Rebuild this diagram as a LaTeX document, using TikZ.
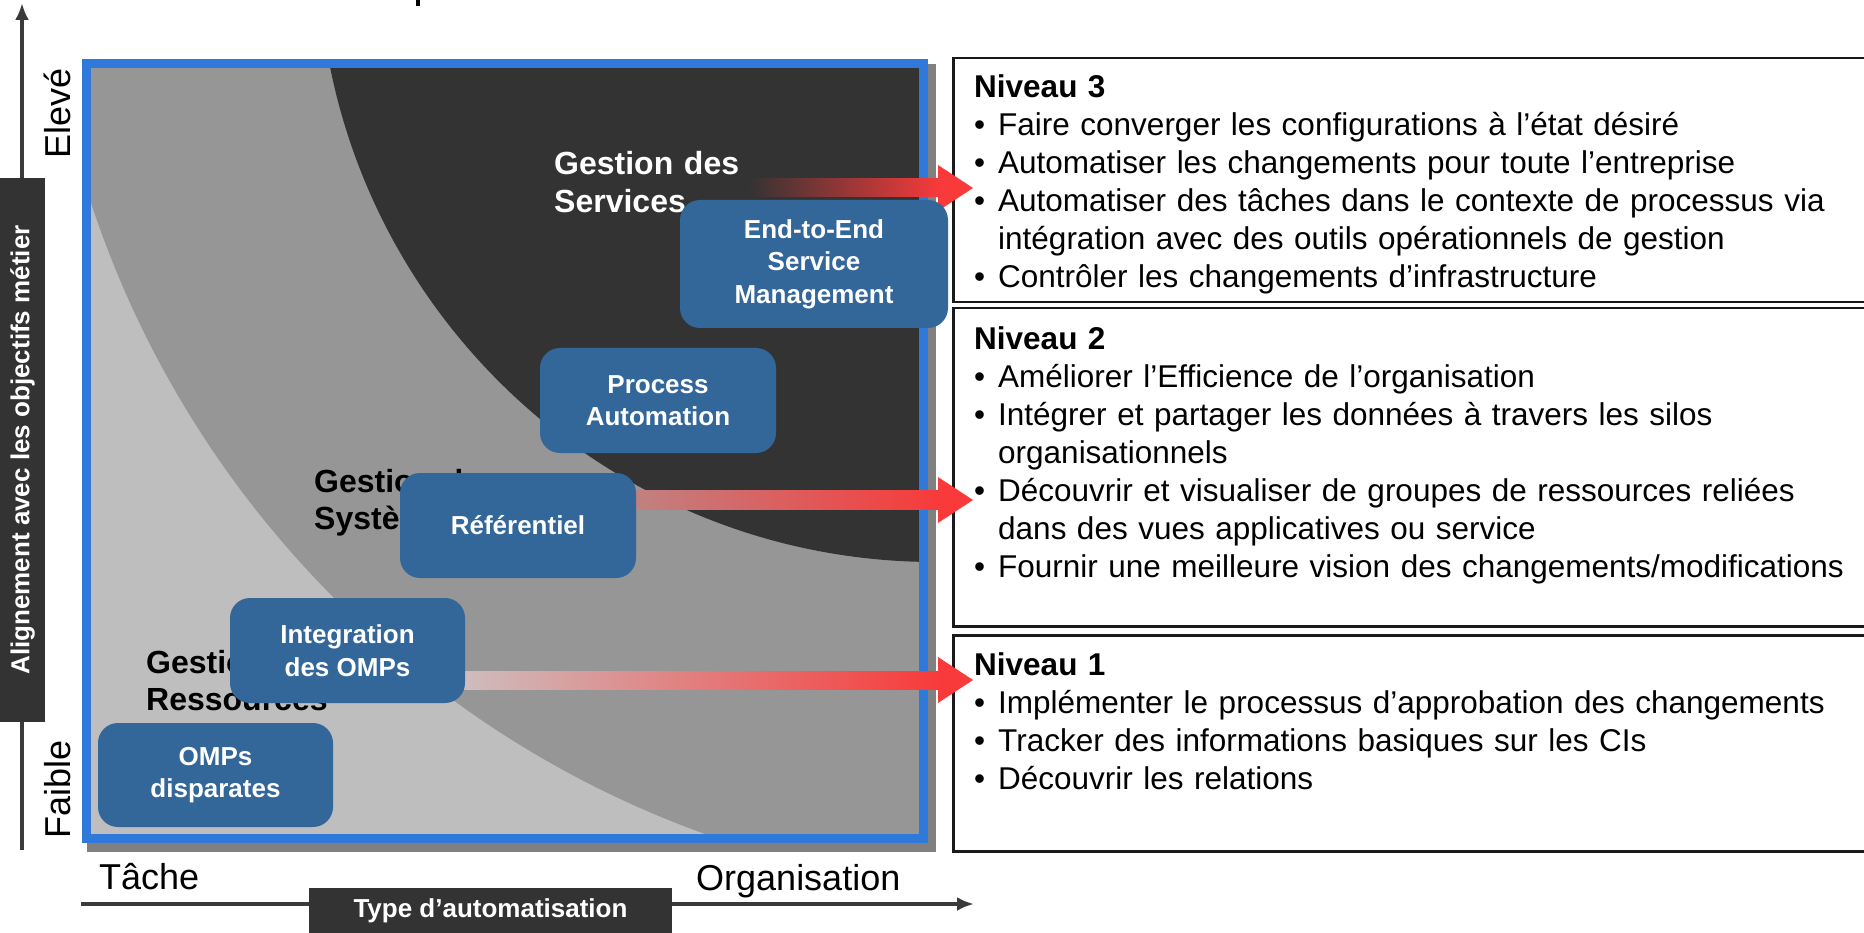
\documentclass[tikz,border=0pt]{standalone}
\usepackage{fontspec}
\setmainfont{Liberation Sans}
\usetikzlibrary{arrows.meta}
\definecolor{boxblue}{HTML}{336699}
\definecolor{frameblue}{HTML}{2E79DA}
\definecolor{darkgr}{HTML}{333333}
\definecolor{midgr}{HTML}{969696}
\definecolor{lightgr}{HTML}{BEBEBE}
\definecolor{shadowgr}{HTML}{808080}
\definecolor{axisgr}{HTML}{3A3A3A}
\definecolor{arrowred}{HTML}{F83A3A}
\newcommand{\myfs}[2]{\fontsize{#1}{#2}\selectfont}
\newcommand{\bul}{\makebox[24pt][l]{•}}
\begin{document}
\begin{tikzpicture}[x=1pt,y=-1pt,
  bluebox/.style={fill=boxblue, rounded corners=20pt, text=white, font=\bfseries\myfs{26}{32.5}, align=center, inner sep=0pt},
  zonelabel/.style={anchor=base west, inner sep=0pt, align=left, text width=330pt, font=\bfseries\myfs{32}{37.5}},
  axislabel/.style={inner sep=0pt, font=\myfs{36}{40}},
  darktag/.style={fill=darkgr, text=white, font=\bfseries\myfs{26}{30}, inner sep=0pt},
  levelbox/.style={draw=black!90, line width=2.5pt, inner sep=0pt, anchor=north west, minimum width=960pt},
  leveltext/.style={anchor=base west, inner sep=0pt, align=left, text width=1000pt, font=\myfs{31.5}{38}},
  axisline/.style={line width=4pt, draw=axisgr, -{Latex[length=17pt,width=14pt]}},
  redhead/.style={fill=arrowred},
]
\useasboundingbox (0,0) rectangle (1864,933);

% cut-off title fragment
\fill (416,0) rectangle (420,6);

% shadow and zones
\fill[shadowgr] (87,64) rectangle (936,852);
\begin{scope}
  \clip (86,64) rectangle (924,838);
  \fill[lightgr] (86,64) rectangle (924,838);
  \fill[midgr] (1045,-111) circle[radius=1004pt];
  \fill[darkgr] (935,-55) circle[radius=617pt];
\end{scope}
\draw[frameblue, line width=9pt] (86.5,63.5) rectangle (923.5,838.5);

% level boxes
\node[levelbox, minimum height=244pt] (lvl3) at (952,57) {};
\node[levelbox, minimum height=318pt] (lvl2) at (952,307) {};
\node[levelbox, minimum height=216pt] (lvl1) at (952,634) {};

\node[leveltext] (t3) at (974,98) {\textbf{Niveau 3}\\
\bul Faire converger les configurations à l’état désiré\\
\bul Automatiser les changements pour toute l’entreprise\\
\bul Automatiser des tâches dans le contexte de processus via\\
\hspace*{24pt}intégration avec des outils opérationnels de gestion\\
\bul Contrôler les changements d’infrastructure};

\node[leveltext] (t2) at (974,350) {\textbf{Niveau 2}\\
\bul Améliorer l’Efficience de l’organisation\\
\bul Intégrer et partager les données à travers les silos\\
\hspace*{24pt}organisationnels\\
\bul Découvrir et visualiser de groupes de ressources reliées\\
\hspace*{24pt}dans des vues applicatives ou service\\
\bul Fournir une meilleure vision des changements/modifications};

\node[leveltext] (t1) at (974,675) {\textbf{Niveau 1}\\
\bul Implémenter le processus d’approbation des changements\\
\bul Tracker des informations basiques sur les CIs\\
\bul Découvrir les relations};

% zone labels
\node[zonelabel, text=white] (zserv) at (554,175) {Gestion des\\Services};
\node[zonelabel] (zsys) at (314,492) {Gestion des\\Systèmes};
\node[zonelabel] (zres) at (146,673) {Gestion des\\Ressources};

% red arrows
\shade[left color=darkgr, right color=arrowred] (748,179) rectangle (940,197);
\fill[redhead] (938,165) -- (973,188) -- (938,211) -- cycle;
\shade[left color={rgb,255:red,192;green,130;blue,130}, right color=arrowred] (630,490) rectangle (940,509);
\fill[redhead] (938,477) -- (973,500) -- (938,523) -- cycle;
\shade[left color={rgb,255:red,206;green,190;blue,190}, right color=arrowred] (460,671) rectangle (940,689);
\fill[redhead] (938,657) -- (973,680) -- (938,703) -- cycle;

% blue boxes
\node[bluebox, minimum width=268pt, minimum height=128pt] (e2e) at (814,264) {End-to-End\\Service\\Management};
\node[bluebox, minimum width=236pt, minimum height=105pt] (pa) at (658,400.5) {Process\\Automation};
\node[bluebox, minimum width=236pt, minimum height=105pt] (ref) at (518,525.5) {Référentiel};
\node[bluebox, minimum width=235pt, minimum height=105pt] (int) at (347.5,650.5) {Integration\\des OMPs};
\node[bluebox, minimum width=235pt, minimum height=104pt] (omp) at (215.5,775) {OMPs\\disparates};

% axes
\coordinate (vbot) at (22,850);
\coordinate (vtop) at (22,3);
\coordinate (hleft) at (81,904);
\coordinate (hright) at (974,904);
\draw[axisline] (vbot) -- (vtop);
\draw[axisline] (hleft) -- (hright);

\node[darktag, rotate=90, minimum width=544pt, minimum height=45pt] (valign) at (22.5,450) {Alignement avec les objectifs métier};
\node[darktag, minimum width=363pt, minimum height=45pt] (htype) at (490.5,910.5) {Type d’automatisation};

\node[axislabel, rotate=90, anchor=base] (high) at (70,113) {Elevé};
\node[axislabel, rotate=90, anchor=base] (low) at (70,789) {Faible};
\node[axislabel, anchor=base west] (task) at (99,889) {Tâche};
\node[axislabel, anchor=base west] (org) at (696,890) {Organisation};
\end{tikzpicture}
\end{document}
